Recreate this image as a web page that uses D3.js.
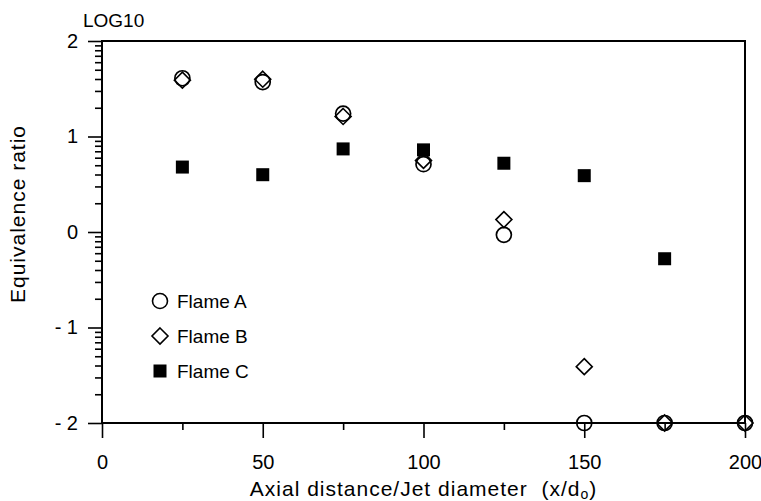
<!DOCTYPE html>
<html>
<head>
<meta charset="utf-8">
<script src="https://cdn.jsdelivr.net/npm/d3@7"></script>
<style>
  body { margin: 0; background: #fff; }
  svg text { font-family: "Liberation Sans", Arial, sans-serif; fill: #000; }
</style>
</head>
<body>
<svg id="chart" width="761" height="501"></svg>
<script>
// x positions (axial distance / jet diameter)
var xCats = [25, 50, 75, 100, 125, 150, 175, 200];
// log10 of equivalence ratio
var flameA = [1.61, 1.57, 1.24, 0.71, -0.03, -2, -2, -2];
var flameB = [1.59, 1.60, 1.21, 0.75, 0.13, -1.41, -2, -2];
var flameC = [0.68, 0.60, 0.87, 0.86, 0.72, 0.59, -0.28, null];

var xTicks = [0, 50, 100, 150, 200];
var xMinorTicks = [25, 75, 125, 175];
var yTicks = [-2, -1, 0, 1, 2];
var legendNames = ["Flame A", "Flame B", "Flame C"];

var svg = d3.select("#chart");
var plot = { left: 102, right: 745, top: 41, bottom: 423 };

var x = d3.scaleLinear().domain([0, 200]).range([plot.left, plot.right]);
var y = d3.scaleLinear().domain([-2, 2]).range([plot.bottom, plot.top]);

// log minor ticks inside each decade
var yMinorTicks = [];
for (var k = -2; k < 2; k++) {
  for (var m = 2; m <= 9; m++) {
    yMinorTicks.push(k + Math.log10(m));
  }
}

function styleAxis(g) {
  g.select(".domain").remove();
  g.selectAll("line").attr("stroke", "#000").attr("stroke-width", 1.6);
  g.selectAll("text").attr("font-size", 20).attr("fill", "#000")
    .style("font-family", "'Liberation Sans', Arial, sans-serif");
}

svg.append("g")
  .attr("transform", "translate(0," + plot.bottom + ")")
  .call(d3.axisBottom(x).tickValues(xTicks).tickSize(15).tickPadding(17).tickFormat(d3.format("d")))
  .call(styleAxis);

svg.append("g")
  .attr("transform", "translate(0," + plot.bottom + ")")
  .call(d3.axisBottom(x).tickValues(xMinorTicks).tickSize(7).tickFormat(""))
  .call(styleAxis);

svg.append("g")
  .attr("transform", "translate(" + plot.left + ",0)")
  .call(d3.axisLeft(y).tickValues(yTicks).tickSize(14).tickPadding(10)
    .tickFormat(function(d) { return d < 0 ? "- " + Math.abs(d) : String(d); }))
  .call(styleAxis);

svg.append("g")
  .attr("transform", "translate(" + plot.left + ",0)")
  .call(d3.axisLeft(y).tickValues(yMinorTicks).tickSize(7).tickFormat(""))
  .call(styleAxis);

// frame
svg.append("rect")
  .attr("x", plot.left).attr("y", plot.top)
  .attr("width", plot.right - plot.left).attr("height", plot.bottom - plot.top)
  .attr("fill", "none").attr("stroke", "#000").attr("stroke-width", 2);

function pairs(values) {
  return xCats.map(function(d, i) { return [d, values[i]]; })
    .filter(function(p) { return p[1] !== null; });
}

var diamond = function(s) { return "M0," + (-s) + "L" + s + ",0L0," + s + "L" + (-s) + ",0Z"; };

svg.append("g").selectAll("circle").data(pairs(flameA)).enter().append("circle")
  .attr("cx", function(p) { return x(p[0]); })
  .attr("cy", function(p) { return y(p[1]); })
  .attr("r", 7.5)
  .attr("fill", "none").attr("stroke", "#000").attr("stroke-width", 1.7);

svg.append("g").selectAll("path").data(pairs(flameB)).enter().append("path")
  .attr("transform", function(p) { return "translate(" + x(p[0]) + "," + y(p[1]) + ")"; })
  .attr("d", diamond(8))
  .attr("fill", "none").attr("stroke", "#000").attr("stroke-width", 1.6);

svg.append("g").selectAll("rect").data(pairs(flameC)).enter().append("rect")
  .attr("x", function(p) { return x(p[0]) - 6.5; })
  .attr("y", function(p) { return y(p[1]) - 6.5; })
  .attr("width", 13).attr("height", 13)
  .attr("fill", "#000");

// legend
var legend = svg.append("g").attr("transform", "translate(160,301)");
legendNames.forEach(function(name, i) {
  var row = legend.append("g").attr("transform", "translate(0," + (i * 35) + ")");
  if (i === 0) {
    row.append("circle").attr("r", 7.5).attr("fill", "none").attr("stroke", "#000").attr("stroke-width", 1.6);
  } else if (i === 1) {
    row.append("path").attr("d", diamond(8)).attr("fill", "none").attr("stroke", "#000").attr("stroke-width", 1.6);
  } else {
    row.append("rect").attr("x", -6.5).attr("y", -6.5).attr("width", 13).attr("height", 13).attr("fill", "#000");
  }
  row.append("text").attr("x", 17).attr("dy", "0.35em").attr("font-size", 19).text(name);
});

// titles
svg.append("text").attr("x", 83).attr("y", 27).attr("font-size", 19).text("LOG10");

svg.append("text")
  .attr("transform", "translate(25,214) rotate(-90)")
  .attr("text-anchor", "middle").attr("font-size", 21)
  .attr("letter-spacing", 1)
  .text("Equivalence ratio");

var xTitle = svg.append("text")
  .attr("x", (plot.left + plot.right) / 2).attr("y", 496)
  .attr("text-anchor", "middle").attr("font-size", 21)
  .attr("letter-spacing", 1);
xTitle.append("tspan").text("Axial distance/Jet diameter\u00a0\u00a0(x/d");
xTitle.append("tspan").attr("font-size", 14).attr("dy", 3).text("o");
xTitle.append("tspan").attr("dy", -3).text(")");
</script>
</body>
</html>
